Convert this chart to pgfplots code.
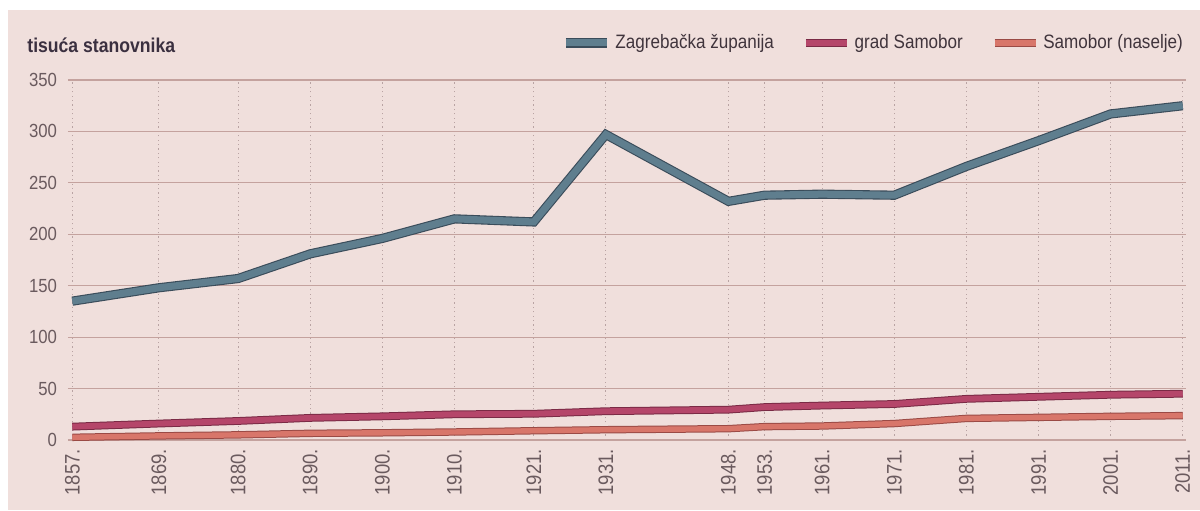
\documentclass[border=0pt]{standalone}
\usepackage{fontspec}
\setmainfont{Liberation Sans}[FakeStretch=0.88]
\usepackage{pgfplots}
\pgfplotsset{compat=1.18}
\definecolor{bg}{HTML}{F0DFDC}
\definecolor{tealin}{HTML}{5F7E8E}
\definecolor{tealout}{HTML}{3A4C5A}
\definecolor{gradin}{HTML}{B5466A}
\definecolor{gradout}{HTML}{7A2A45}
\definecolor{nasin}{HTML}{D8766A}
\definecolor{nasout}{HTML}{9A4A45}
\definecolor{hgrid}{HTML}{C4A29E}
\definecolor{vgrid}{HTML}{B9A3A3}
\definecolor{ticktxt}{HTML}{6A5A5E}
\definecolor{titlec}{HTML}{3B3040}
\definecolor{legtxt}{HTML}{40343C}
\begin{document}
\begin{tikzpicture}
\fill[white] (0pt,0pt) rectangle (600pt,255pt);
\fill[bg] (4pt,0pt) rectangle (600pt,250pt);
\node[anchor=base west, font=\bfseries\fontsize{10}{12}\selectfont, text=titlec, inner sep=0pt] at (13.5pt,229pt) {tisuća stanovnika};
\begin{axis}[
  at={(34pt,35pt)}, anchor=south west, scale only axis,
  width=558.8pt, height=180pt,
  xmin=1856.4, xmax=2011.4, ymin=0, ymax=350,
  ytick={0,50,...,350},
  xtick={1857,1869,1880,1890,1900,1910,1921,1931,1948,1953,1961,1971,1981,1991,2001,2011},
  xticklabels={1857.,1869.,1880.,1890.,1900.,1910.,1921.,1931.,1948.,1953.,1961.,1971.,1981.,1991.,2001.,2011.},
  /pgf/number format/assume math mode=true,
  axis line style={draw=none},
  major tick length=0pt,
  xmajorgrids, ymajorgrids,
  x grid style={vgrid, line width=0.6pt, dash pattern=on 0.6pt off 1.6pt},
  y grid style={hgrid, line width=0.55pt},
  tick label style={text=ticktxt},
  yticklabel style={font=\fontsize{9.5}{11}\selectfont, xshift=-2pt},
  xticklabel style={font=\fontsize{10.5}{12}\selectfont, rotate=90, anchor=east, xshift=-1pt},
  clip=false,
  legend columns=3,
  legend style={at={(axis description cs:0.441,1.103)}, anchor=west, draw=none, fill=none,
    font=\fontsize{9.7}{11}\selectfont, text=legtxt, inner sep=0pt,
    /tikz/every even column/.append style={column sep=12pt}},
  legend image code/.code={\draw[#1] (0pt,0pt)--(20.5pt,0pt);},
]
\addplot[draw=tealout, double=tealin, line width=0.55pt, double distance=3.5pt] coordinates {
(1857,135) (1869,148) (1880,157) (1890,181) (1900,196) (1910,215) (1921,212) (1931,297) (1948,232) (1953,238) (1961,239) (1971,238) (1981,266) (1991,291) (2001,317) (2011,325)};
\addlegendentry{Zagrebačka županija}
\addplot[draw=gradout, double=gradin, line width=0.5pt, double distance=2.9pt] coordinates {
(1857,13) (1869,16) (1880,18.5) (1890,21.5) (1900,23) (1910,25) (1921,25.5) (1931,28) (1948,29.5) (1953,32) (1961,33.5) (1971,35) (1981,40) (1991,42) (2001,44) (2011,45)};
\addlegendentry{grad Samobor}
\addplot[draw=nasout, double=nasin, line width=0.5pt, double distance=2.7pt] coordinates {
(1857,2.6) (1869,4) (1880,5) (1890,6.5) (1900,7) (1910,7.8) (1921,9) (1931,10) (1948,11) (1953,13) (1961,13.6) (1971,16) (1981,21) (1991,22) (2001,23) (2011,23.7)};
\addlegendentry{Samobor (naselje)}
\end{axis}
\pgfresetboundingbox
\path (0pt,0pt) rectangle (600pt,255pt);
\end{tikzpicture}
\end{document}
